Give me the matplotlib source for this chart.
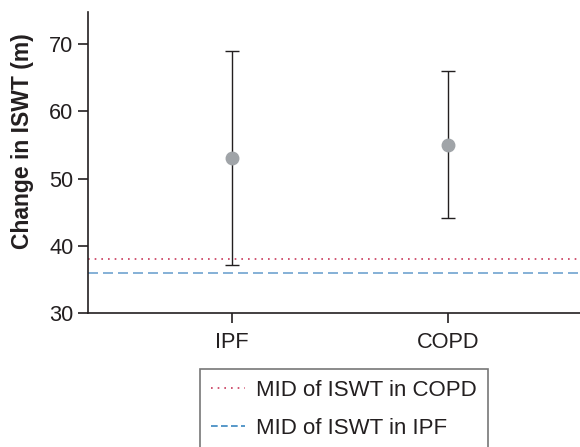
import matplotlib.pyplot as plt
from matplotlib.lines import Line2D

plt.rcParams['font.family'] = ['Liberation Sans', 'DejaVu Sans']

# data
groups = ['IPF', 'COPD']
means = [53, 55]
lower = [37.2, 44.2]
upper = [69, 66]
mid_copd = 38
mid_ipf = 36

txt = '#231f20'
fig = plt.figure(figsize=(5.8, 4.47), dpi=100)
ax = fig.add_axes([0.1517, 0.2998, 0.8483, 0.6732])

x = list(range(len(groups)))
yerr = [[m - l for m, l in zip(means, lower)], [u - m for m, u in zip(means, upper)]]
ax.errorbar(x, means, yerr=yerr, fmt='o', color='#a0a4a8', markersize=9,
            ecolor='#231f20', elinewidth=1.0, capsize=5, capthick=1.0, zorder=3)

ax.axhline(mid_copd, color='#c8385a', linestyle=(0, (1, 3)), linewidth=1.2)
ax.axhline(mid_ipf, color='#6fa3cf', linestyle=(0, (6, 3)), linewidth=1.2)

ax.set_xlim(-0.667, 1.61)
ax.set_ylim(30, 74.8)
ax.set_xticks(x)
ax.set_xticklabels(groups)
ax.set_yticks([30, 40, 50, 60, 70])
ax.tick_params(labelsize=15.7, colors=txt, length=7, width=1.2)
ax.tick_params(axis='x', pad=7)
for s in ['top', 'right']:
    ax.spines[s].set_visible(False)
for s in ['left', 'bottom']:
    ax.spines[s].set_linewidth(1.2)
    ax.spines[s].set_color(txt)

ax.set_ylabel('Change in ISWT (m)', fontsize=16.5, fontweight='bold', color=txt)
ax.yaxis.set_label_coords(-0.11, 0.57)

handles = [Line2D([], [], color='#c8385a', linestyle=(0, (1, 3)), linewidth=1.2),
           Line2D([], [], color='#3a86c0', linestyle=(0, (4, 2)), linewidth=1.2)]
leg = fig.legend(handles, ['MID of ISWT in COPD', 'MID of ISWT in IPF'],
                 loc='upper left', bbox_to_anchor=(0.345, 0.1745), fontsize=16,
                 frameon=True, fancybox=False, handlelength=1.5, handletextpad=0.5,
                 borderpad=0.5, labelspacing=0.75, borderaxespad=0)
leg.get_frame().set_edgecolor('#555555')
leg.get_frame().set_linewidth(1.2)
for t in leg.get_texts():
    t.set_color(txt)

fig.savefig('out.png', dpi=100)
